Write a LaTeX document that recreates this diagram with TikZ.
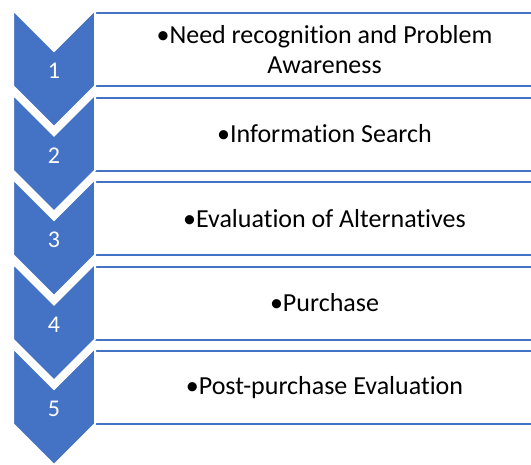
\documentclass[tikz,border=0pt]{standalone}
\usepackage{fontspec}
\setmainfont{Carlito}[Ligatures=NoCommon]
\usetikzlibrary{positioning}
\definecolor{stepblue}{HTML}{4472C4}
\tikzset{
  chevron/.style={fill=stepblue, draw=white, line width=2pt, line join=miter},
  stagebox/.style={draw=stepblue, fill=white, line width=2pt,
    minimum width=459pt, minimum height=73pt, inner sep=0pt,
    align=center, font=\fontsize{26}{30}\selectfont},
  stagenum/.style={text=white, inner sep=0pt, font=\fontsize{24}{26}\selectfont}
}

\begin{document}
\begin{tikzpicture}[x=1pt,y=-1pt]

\newcommand\Gap{84.5}

\clip (0,0) rectangle (531,464);
\fill[white] (0,0) rectangle (531,464); %% page

% boxes first, the chevrons cover their left edge
\foreach \i/\txt in {1/{•Need recognition and Problem\\Awareness},
                     2/{•Information Search},
                     3/{•Evaluation of Alternatives},
                     4/{•Purchase},
                     5/{•Post-purchase Evaluation}}
  \node[stagebox] (box\i) at (324.5, {10+(\i-1)*\Gap+39.5}) {\txt};

% each chevron overlaps the tip of the one above
\foreach \i in {1,...,5}{
  \pgfmathsetmacro\yy{10+(\i-1)*\Gap}
  \draw[chevron] (13,\yy) -- (54,\yy+41) -- (95,\yy) -- (95,\yy+76)
    -- (54,\yy+117) -- (13,\yy+76) -- cycle;
  \node[stagenum] (num\i) at (54,\yy+61) {\i};
}

\end{tikzpicture}
\end{document}
